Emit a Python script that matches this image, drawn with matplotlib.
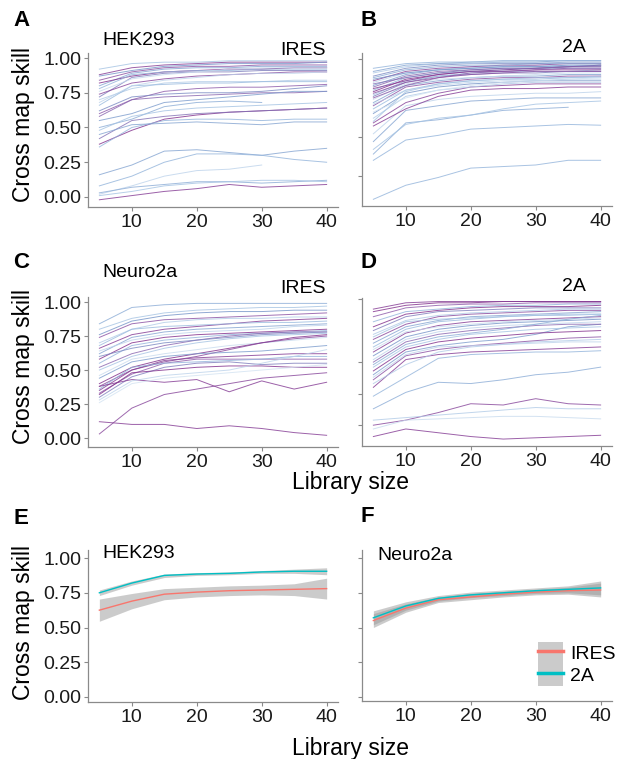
import numpy as np
import matplotlib
matplotlib.use('Agg')
import matplotlib.pyplot as plt
from matplotlib.colors import LinearSegmentedColormap
from matplotlib.patches import Patch
from matplotlib.lines import Line2D

plt.rcParams['font.family'] = ['Liberation Sans', 'DejaVu Sans']

nan = np.nan
lib_size = [5, 10, 15, 20, 25, 30, 35, 40]

# panel A: HEK293 IRES, one row per pair, cross map skill at each library size
hek_ires = [
    [0.92, 0.96, 0.97, 0.97, 0.98, 0.98, 0.98, 0.98],
    [0.88, 0.93, 0.95, 0.96, 0.97, 0.97, 0.97, 0.97],
    [0.87, 0.91, 0.94, 0.95, 0.96, 0.96, 0.96, 0.97],
    [0.84, 0.90, 0.93, 0.94, 0.94, 0.95, 0.95, 0.95],
    [0.80, 0.89, 0.92, 0.93, 0.93, 0.94, 0.94, 0.94],
    [0.82, 0.87, 0.90, 0.91, 0.92, 0.92, 0.93, 0.93],
    [0.78, 0.88, 0.90, 0.91, 0.91, 0.92, 0.92, 0.92],
    [0.72, 0.86, 0.89, 0.90, 0.90, 0.91, 0.91, 0.91],
    [0.74, 0.82, 0.85, 0.87, 0.88, 0.89, 0.90, 0.90],
    [0.70, 0.78, 0.82, 0.83, 0.83, 0.83, 0.84, 0.84],
    [0.66, 0.80, 0.81, 0.82, 0.82, 0.83, 0.83, 0.83],
    [0.60, 0.70, 0.76, 0.78, 0.79, 0.79, 0.80, 0.81],
    [0.62, 0.72, 0.74, 0.75, 0.75, 0.76, 0.78, 0.80],
    [0.58, 0.70, 0.72, 0.73, 0.74, 0.75, 0.75, 0.76],
    [0.55, 0.60, 0.68, 0.70, 0.72, 0.74, 0.76, 0.76],
    [0.50, 0.56, 0.65, 0.68, 0.69, 0.68, nan, nan],
    [0.48, 0.58, 0.62, 0.64, 0.65, 0.66, 0.67, 0.68],
    [0.38, 0.48, 0.56, 0.59, 0.61, 0.62, 0.63, 0.64],
    [0.42, 0.55, 0.58, 0.60, 0.61, 0.62, 0.63, 0.64],
    [0.36, 0.50, 0.55, 0.56, 0.56, 0.55, 0.56, 0.56],
    [0.45, 0.52, 0.53, 0.54, 0.53, 0.52, 0.54, 0.54],
    [0.16, 0.23, 0.33, 0.34, 0.32, 0.30, 0.33, 0.35],
    [0.08, 0.15, 0.25, 0.31, 0.31, 0.30, 0.27, 0.25],
    [0.02, 0.08, 0.15, 0.19, 0.20, 0.23, nan, nan],
    [0.03, 0.07, 0.09, 0.11, 0.11, 0.10, 0.11, 0.12],
    [0.01, 0.04, 0.08, 0.10, 0.11, 0.12, 0.12, 0.11],
    [-0.02, 0.01, 0.04, 0.06, 0.09, 0.07, 0.08, 0.09],
    [0.68, 0.80, 0.84, 0.86, 0.88, 0.89, 0.89, 0.90],
    [0.76, 0.85, 0.88, 0.90, 0.92, 0.93, 0.93, 0.93],
]
hek_ires_shade = [0.2, 0.9, 0.5, 0.8, 0.4, 0.95, 0.3, 0.6, 0.85, 0.15, 0.25, 0.75,
                  0.55, 0.7, 0.45, 0.35, 0.2, 0.95, 0.65, 0.3, 0.4, 0.4, 0.3, 0.1,
                  0.35, 0.2, 0.9, 0.1, 0.05]

# panel B: HEK293 2A
hek_2a = [
    [0.10, 0.19, 0.24, 0.30, 0.31, 0.32, 0.35, 0.35],
    [0.35, 0.48, 0.51, 0.55, 0.56, 0.57, 0.58, 0.575],
    [0.39, 0.59, 0.61, 0.64, 0.67, 0.68, 0.69, nan],
    [0.42, 0.58, 0.62, 0.64, 0.68, 0.71, 0.72, 0.73],
    [0.47, 0.67, 0.70, 0.73, 0.74, 0.75, 0.75, 0.75],
    [0.52, 0.70, 0.74, 0.76, 0.77, 0.78, 0.78, 0.79],
    [0.57, 0.68, 0.76, 0.80, 0.81, 0.81, 0.82, 0.82],
    [0.59, 0.72, 0.78, 0.82, 0.83, 0.84, 0.84, 0.84],
    [0.62, 0.76, 0.80, 0.82, 0.84, 0.85, 0.85, 0.85],
    [0.65, 0.78, 0.82, 0.84, 0.85, 0.86, 0.86, 0.86],
    [0.68, 0.80, 0.84, 0.86, 0.87, 0.87, 0.88, 0.88],
    [0.70, 0.82, 0.85, 0.87, 0.88, 0.88, 0.89, 0.89],
    [0.72, 0.83, 0.86, 0.88, 0.89, 0.89, 0.90, 0.90],
    [0.74, 0.84, 0.87, 0.88, 0.89, 0.90, 0.91, 0.91],
    [0.76, 0.85, 0.89, 0.90, 0.91, 0.91, 0.92, 0.92],
    [0.77, 0.86, 0.89, 0.91, 0.92, 0.92, 0.92, 0.93],
    [0.79, 0.87, 0.90, 0.92, 0.92, 0.93, 0.93, 0.93],
    [0.80, 0.88, 0.91, 0.92, 0.93, 0.94, 0.94, 0.94],
    [0.82, 0.89, 0.92, 0.93, 0.94, 0.94, 0.95, 0.95],
    [0.83, 0.90, 0.93, 0.94, 0.95, 0.95, 0.95, 0.96],
    [0.85, 0.91, 0.93, 0.95, 0.95, 0.96, 0.96, 0.96],
    [0.86, 0.92, 0.94, 0.95, 0.96, 0.96, 0.97, 0.97],
    [0.88, 0.93, 0.95, 0.96, 0.96, 0.97, 0.97, 0.97],
    [0.89, 0.94, 0.96, 0.97, 0.97, 0.97, 0.98, 0.98],
    [0.91, 0.95, 0.97, 0.97, 0.98, 0.98, 0.98, 0.98],
    [0.92, 0.96, 0.97, 0.98, 0.98, 0.98, 0.99, 0.99],
    [0.94, 0.97, 0.98, 0.98, 0.99, 0.99, 0.99, 0.99],
    [0.81, 0.86, 0.90, 0.92, 0.93, 0.94, 0.95, 0.96],
    [0.75, 0.83, 0.88, 0.91, 0.92, 0.93, 0.94, 0.94],
    [0.66, 0.75, 0.80, 0.83, 0.85, 0.86, 0.87, 0.88],
    [0.60, 0.79, 0.84, 0.86, 0.87, 0.88, 0.88, 0.89],
    [0.84, 0.88, 0.91, 0.93, 0.94, 0.94, 0.95, 0.95],
    [0.87, 0.91, 0.93, 0.94, 0.95, 0.95, 0.96, 0.96],
    [0.78, 0.85, 0.88, 0.90, 0.91, 0.92, 0.92, 0.92],
    [0.71, 0.80, 0.83, 0.85, 0.86, 0.86, 0.87, 0.87],
]
hek_2a_shade = [0.3, 0.3, 0.35, 0.2, 0.4, 0.1, 0.9, 0.85, 0.15, 0.5, 0.25, 0.8,
                0.4, 0.05, 0.6, 0.2, 0.95, 0.3, 0.7, 0.45, 0.1, 0.85, 0.35, 0.55,
                0.15, 0.4, 0.3, 0.9, 0.75, 0.0, 0.2, 0.65, 0.5, 0.8, 0.1]

# panel C: Neuro2a IRES
n2a_ires = [
    [0.84, 0.96, 0.98, 0.99, 0.99, 0.99, 0.99, 0.99],
    [0.80, 0.88, 0.92, 0.94, 0.95, 0.96, 0.96, 0.97],
    [0.76, 0.86, 0.90, 0.92, 0.93, 0.93, 0.94, 0.94],
    [0.74, 0.84, 0.87, 0.88, 0.89, 0.90, 0.91, 0.92],
    [0.70, 0.80, 0.85, 0.87, 0.88, 0.88, 0.89, 0.89],
    [0.66, 0.76, 0.80, 0.82, 0.84, 0.86, 0.87, 0.88],
    [0.68, 0.80, 0.82, 0.83, 0.84, 0.85, 0.85, 0.86],
    [0.62, 0.74, 0.78, 0.80, 0.81, 0.82, 0.83, 0.84],
    [0.64, 0.72, 0.76, 0.78, 0.79, 0.80, 0.82, 0.83],
    [0.58, 0.70, 0.74, 0.76, 0.77, 0.78, 0.79, 0.80],
    [0.55, 0.68, 0.72, 0.74, 0.76, 0.77, 0.78, 0.79],
    [0.52, 0.62, 0.68, 0.72, 0.75, 0.77, 0.78, 0.78],
    [0.50, 0.60, 0.66, 0.70, 0.73, 0.75, 0.76, 0.77],
    [0.46, 0.58, 0.62, 0.65, 0.68, 0.70, 0.72, 0.74],
    [0.40, 0.52, 0.58, 0.62, 0.66, 0.70, 0.74, 0.76],
    [0.38, 0.50, 0.56, 0.60, 0.65, 0.70, 0.73, 0.75],
    [0.35, 0.50, 0.57, 0.59, 0.60, 0.61, 0.62, 0.62],
    [0.33, 0.47, 0.55, 0.58, 0.58, 0.58, 0.58, 0.58],
    [0.36, 0.52, 0.55, 0.56, 0.57, 0.58, 0.60, 0.60],
    [0.30, 0.45, 0.52, 0.55, 0.56, 0.54, 0.55, 0.55],
    [0.32, 0.48, 0.50, 0.52, 0.53, 0.53, 0.52, 0.52],
    [0.38, 0.43, 0.41, 0.43, 0.34, 0.42, 0.36, 0.41],
    [0.28, 0.42, 0.46, 0.48, 0.50, 0.55, 0.60, 0.65],
    [0.44, 0.56, 0.60, 0.62, 0.63, 0.64, 0.66, 0.68],
    [0.03, 0.22, 0.32, 0.36, 0.40, 0.44, 0.46, 0.48],
    [0.12, 0.10, 0.10, 0.07, 0.09, 0.07, 0.04, 0.02],
    [0.26, 0.40, 0.44, 0.46, 0.48, 0.50, 0.52, 0.54],
    [0.60, 0.66, 0.70, 0.72, 0.74, 0.76, 0.77, 0.78],
]
n2a_ires_shade = [0.35, 0.2, 0.5, 0.8, 0.15, 0.9, 0.25, 0.4, 0.1, 0.95, 0.3, 0.7,
                  0.2, 0.05, 0.95, 0.85, 0.9, 0.75, 0.3, 0.6, 0.95, 0.9, 0.1, 0.45,
                  0.85, 0.9, 0.0, 0.55]

# panel D: Neuro2a 2A
n2a_2a = [
    [-0.09, -0.03, -0.06, -0.09, -0.11, -0.10, -0.09, -0.08],
    [0.00, 0.04, 0.10, 0.17, 0.16, 0.21, 0.17, 0.16],
    [0.04, 0.06, 0.08, 0.10, 0.12, 0.14, 0.13, 0.13],
    [-0.03, 0.04, 0.05, 0.06, 0.07, 0.07, 0.06, 0.05],
    [0.13, 0.26, 0.34, 0.33, 0.36, 0.40, 0.42, 0.46],
    [0.23, 0.38, 0.53, 0.56, 0.57, 0.58, 0.58, 0.59],
    [0.30, 0.52, 0.56, 0.58, 0.59, 0.60, 0.61, 0.62],
    [0.33, 0.48, 0.58, 0.62, 0.64, 0.66, 0.67, 0.68],
    [0.36, 0.55, 0.60, 0.63, 0.65, 0.67, 0.69, 0.70],
    [0.40, 0.58, 0.63, 0.66, 0.68, 0.72, 0.78, 0.80],
    [0.43, 0.60, 0.66, 0.69, 0.71, 0.73, 0.74, 0.75],
    [0.46, 0.62, 0.68, 0.72, 0.74, 0.76, 0.77, 0.78],
    [0.50, 0.66, 0.72, 0.75, 0.77, 0.79, 0.80, 0.80],
    [0.52, 0.68, 0.74, 0.77, 0.79, 0.80, 0.81, 0.82],
    [0.55, 0.70, 0.76, 0.79, 0.81, 0.82, 0.83, 0.84],
    [0.58, 0.73, 0.79, 0.82, 0.83, 0.84, 0.85, 0.86],
    [0.62, 0.76, 0.82, 0.84, 0.86, 0.87, 0.88, 0.88],
    [0.65, 0.78, 0.83, 0.86, 0.87, 0.88, 0.89, 0.90],
    [0.68, 0.80, 0.86, 0.88, 0.89, 0.90, 0.91, 0.91],
    [0.72, 0.83, 0.87, 0.89, 0.90, 0.91, 0.92, 0.92],
    [0.75, 0.86, 0.90, 0.91, 0.92, 0.93, 0.93, 0.93],
    [0.78, 0.88, 0.91, 0.93, 0.94, 0.94, 0.94, 0.95],
    [0.82, 0.90, 0.92, 0.94, 0.95, 0.95, 0.96, 0.96],
    [0.86, 0.93, 0.95, 0.96, 0.96, 0.97, 0.97, 0.97],
    [0.90, 0.95, 0.97, 0.97, 0.98, 0.98, 0.98, 0.98],
    [0.92, 0.97, 0.98, 0.98, 0.98, 0.98, 0.98, 0.98],
    [0.60, 0.74, 0.78, 0.80, 0.82, 0.83, 0.84, 0.85],
    [0.48, 0.64, 0.70, 0.73, 0.76, 0.80, 0.84, 0.87],
    [0.70, 0.82, 0.84, 0.85, 0.86, 0.87, 0.87, 0.88],
    [0.38, 0.56, 0.62, 0.63, 0.64, 0.65, 0.66, 0.66],
]
n2a_2a_shade = [0.9, 0.85, 0.15, 0.05, 0.35, 0.3, 0.9, 0.15, 0.8, 0.45, 0.95, 0.2,
                0.7, 0.1, 0.5, 0.9, 0.25, 0.4, 0.85, 0.15, 0.6, 0.95, 0.3, 0.75,
                0.95, 0.9, 0.05, 0.35, 0.2, 0.1]

# panels E/F: smoothed fits with confidence bands
hek_fit_ires = [0.625, 0.69, 0.74, 0.755, 0.765, 0.77, 0.775, 0.78]
hek_lo_ires = [0.545, 0.635, 0.70, 0.72, 0.73, 0.735, 0.73, 0.705]
hek_hi_ires = [0.705, 0.745, 0.78, 0.79, 0.80, 0.805, 0.815, 0.855]
hek_fit_2a = [0.75, 0.82, 0.875, 0.885, 0.89, 0.90, 0.905, 0.905]
hek_lo_2a = [0.73, 0.805, 0.86, 0.875, 0.88, 0.89, 0.89, 0.88]
hek_hi_2a = [0.77, 0.835, 0.885, 0.895, 0.90, 0.91, 0.92, 0.93]

n2a_fit_ires = [0.55, 0.64, 0.70, 0.72, 0.74, 0.755, 0.765, 0.77]
n2a_lo_ires = [0.50, 0.61, 0.68, 0.70, 0.72, 0.735, 0.74, 0.72]
n2a_hi_ires = [0.60, 0.67, 0.72, 0.745, 0.76, 0.775, 0.79, 0.82]
n2a_fit_2a = [0.57, 0.655, 0.71, 0.735, 0.75, 0.765, 0.775, 0.785]
n2a_lo_2a = [0.52, 0.625, 0.69, 0.715, 0.73, 0.745, 0.75, 0.735]
n2a_hi_2a = [0.62, 0.685, 0.73, 0.755, 0.77, 0.785, 0.80, 0.835]

W, H = 628, 759
fig = plt.figure(figsize=(W / 100, H / 100), dpi=100)
cmap = LinearSegmentedColormap.from_list('bp', ['#d3e3f2', '#9abbdf', '#7594c8', '#8c5aa9', '#7d2384'])
RED, CYAN = '#F8766D', '#00BFC4'


def px_axes(left, top, right, bottom):
    return fig.add_axes([left / W, 1 - bottom / H, (right - left) / W, (bottom - top) / H])


def px_text(x, y, s, **kw):
    fig.text(x / W, 1 - y / H, s, **kw)


def style(ax, ylim, yticks, labels):
    ax.set_xlim(3.25, 41.75)
    ax.set_ylim(*ylim)
    ax.set_xticks([10, 20, 30, 40])
    ax.set_yticks(yticks)
    if labels:
        ax.set_yticklabels(['%.2f' % v for v in yticks])
    else:
        ax.set_yticklabels([])
    for s in ['top', 'right']:
        ax.spines[s].set_visible(False)
    for s in ['left', 'bottom']:
        ax.spines[s].set_color('#8a8a8a')
        ax.spines[s].set_linewidth(0.9)
    ax.tick_params(length=3, width=0.8, color='#8a8a8a', labelsize=14, pad=2, labelcolor='#1a1a1a')


def draw_lines(ax, rows, shades):
    for row, c in zip(rows, shades):
        ax.plot(lib_size, row, color=cmap(c), lw=0.7, alpha=0.8)


def draw_fit(ax, fit, lo, hi, color):
    ax.fill_between(lib_size, lo, hi, color='#999999', alpha=0.5, lw=0)
    ax.plot(lib_size, fit, color=color, lw=1.0)


ticks = [0, 0.25, 0.5, 0.75, 1.0]

axA = px_axes(88, 53, 338, 207)
draw_lines(axA, hek_ires, hek_ires_shade)
style(axA, (-0.072, 1.036), ticks, True)

axB = px_axes(362, 53, 612, 206)
draw_lines(axB, hek_2a, hek_2a_shade)
style(axB, (0.057, 1.038), [0.25, 0.5, 0.75, 1.0], False)

axC = px_axes(88, 297, 338, 447)
draw_lines(axC, n2a_ires, n2a_ires_shade)
style(axC, (-0.066, 1.037), ticks, True)

axD = px_axes(362, 298, 612, 446)
draw_lines(axD, n2a_2a, n2a_2a_shade)
style(axD, (-0.165, 1.008), [0, 0.25, 0.5, 1.0], False)

axE = px_axes(88, 550, 338, 702)
draw_fit(axE, hek_fit_ires, hek_lo_ires, hek_hi_ires, RED)
draw_fit(axE, hek_fit_2a, hek_lo_2a, hek_hi_2a, CYAN)
style(axE, (-0.036, 1.058), ticks, True)

axF = px_axes(362, 550, 612, 701)
draw_fit(axF, n2a_fit_ires, n2a_lo_ires, n2a_hi_ires, RED)
draw_fit(axF, n2a_fit_2a, n2a_lo_2a, n2a_hi_2a, CYAN)
style(axF, (-0.029, 1.058), ticks, False)

key = dict(facecolor='#999999', alpha=0.5, edgecolor='none')
handles = [(Patch(**key), Line2D([], [], color=RED, lw=2.5)),
           (Patch(**key), Line2D([], [], color=CYAN, lw=2.5))]
axF.legend(handles, ['IRES', '2A'], loc='upper left', frameon=False,
           bbox_to_anchor=(538 / W, 1 - 642 / H), bbox_transform=fig.transFigure,
           borderpad=0, borderaxespad=0, handlelength=1.3, handleheight=1.35,
           labelspacing=0.0, handletextpad=0.35, fontsize=14)

# panel letters
for letter, x, y in [('A', 13, 21), ('B', 360, 21), ('C', 13, 263),
                     ('D', 360, 263), ('E', 14, 519), ('F', 360, 517)]:
    px_text(x, y, letter, fontsize=16, fontweight='bold', ha='left', va='center')

# cell line / construct labels
px_text(102, 40.5, 'HEK293', fontsize=14, ha='left', va='center')
px_text(326, 50.5, 'IRES', fontsize=14, ha='right', va='center')
px_text(586, 47.5, '2A', fontsize=14, ha='right', va='center')
px_text(102, 273, 'Neuro2a', fontsize=14, ha='left', va='center')
px_text(326, 288.5, 'IRES', fontsize=14, ha='right', va='center')
px_text(586, 286.5, '2A', fontsize=14, ha='right', va='center')
px_text(102, 554, 'HEK293', fontsize=14, ha='left', va='center')
px_text(377, 555, 'Neuro2a', fontsize=14, ha='left', va='center')

# axis titles
for yc in [125, 366, 623]:
    px_text(24, yc, 'Cross map skill', fontsize=16.5, rotation=90, ha='center', va='center')
px_text(351, 483, 'Library size', fontsize=16.5, ha='center', va='center')
px_text(351, 748, 'Library size', fontsize=16.5, ha='center', va='center')

fig.savefig('out.png', dpi=100, facecolor='white')
